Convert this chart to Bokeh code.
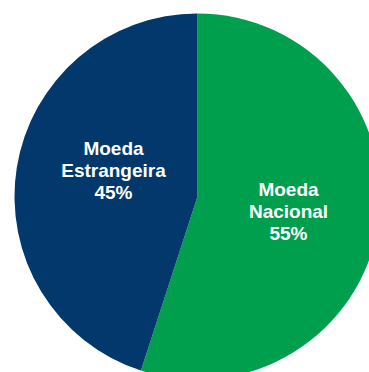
import numpy as np
from bokeh.plotting import figure
from bokeh.models import ColumnDataSource
from bokeh.core.properties import value
from bokeh.embed import file_html
from bokeh.resources import INLINE

categories = ["Moeda Nacional", "Moeda Estrangeira"]
shares = [55, 45]
label_lines = ["Moeda\nNacional", "Moeda\nEstrangeira"]
colors = ["#009F4D", "#02386B"]

W, H = 369, 372
cx, cy, R = 197, 176, 183

vals = np.array(shares, dtype=float)
frac = vals / vals.sum()
ends = np.cumsum(frac) * 2 * np.pi
starts = ends - frac * 2 * np.pi
# clockwise from 12 o'clock
start_angle = np.pi / 2 - starts
end_angle = np.pi / 2 - ends

src = ColumnDataSource(dict(start=start_angle, end=end_angle, color=colors, cat=categories))

p = figure(width=W, height=H, output_backend="svg", toolbar_location=None,
           x_range=(0, W), y_range=(0, H), min_border=0)
p.axis.visible = False
p.grid.visible = False
p.outline_line_color = None
p.background_fill_color = "white"
p.border_fill_color = "white"

p.wedge(x=cx, y=cy, radius=R, start_angle="start", end_angle="end",
        direction="clock", fill_color="color", line_color=None, source=src)

# label positions (layout)
lx = [cx + 91, cx - 84]
ly = [cy - 15, cy + 26]
texts = [f"{l}\n{s}%" for l, s in zip(label_lines, shares)]
p.text(x=lx, y=ly, text=texts, text_color="white", text_align="center",
       text_baseline="middle", text_font=value("Liberation Sans"),
       text_font_style="bold", text_font_size="19px", text_line_height=1.04)

open("out.html", "w").write(file_html(p, INLINE))
